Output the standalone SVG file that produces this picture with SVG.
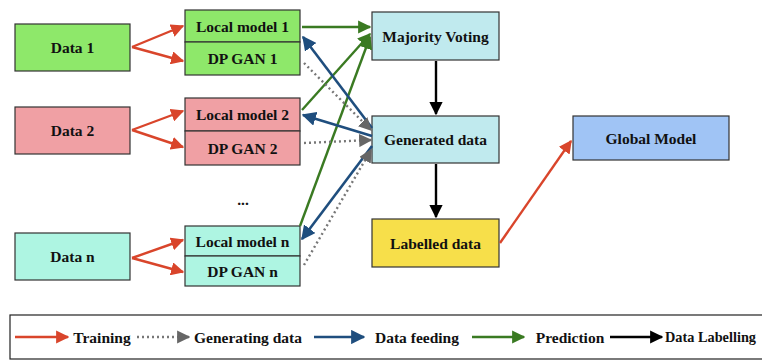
<svg xmlns="http://www.w3.org/2000/svg" width="762" height="360" viewBox="0 0 762 360">
<style>
text{font-family:"Liberation Serif","Times New Roman",serif;font-weight:bold;font-size:15.5px;fill:#111;text-anchor:middle;dominant-baseline:central}
.box{stroke:#333;stroke-width:1.2}
.tr{stroke:#d9452b;stroke-width:2.4;fill:none}
.gen{stroke:#777;stroke-width:2.4;stroke-dasharray:2 3;fill:none}
.feed{stroke:#1f4e7e;stroke-width:2.6;fill:none}
.pred{stroke:#3a7a22;stroke-width:2.4;fill:none}
.lab{stroke:#000;stroke-width:2.4;fill:none}
</style>
<defs>
<marker id="mr" viewBox="0 0 10 10" refX="9" refY="5" markerWidth="5.5" markerHeight="5.5" orient="auto" markerUnits="strokeWidth"><path d="M0,0 L10,5 L0,10 Z" fill="#d9452b"/></marker>
<marker id="mg" viewBox="0 0 10 10" refX="9" refY="5" markerWidth="5.5" markerHeight="5.5" orient="auto" markerUnits="strokeWidth"><path d="M0,0 L10,5 L0,10 Z" fill="#666"/></marker>
<marker id="mb" viewBox="0 0 10 10" refX="9" refY="5" markerWidth="5.5" markerHeight="5.5" orient="auto" markerUnits="strokeWidth"><path d="M0,0 L10,5 L0,10 Z" fill="#1f4e7e"/></marker>
<marker id="mp" viewBox="0 0 10 10" refX="9" refY="5" markerWidth="5.5" markerHeight="5.5" orient="auto" markerUnits="strokeWidth"><path d="M0,0 L10,5 L0,10 Z" fill="#3a7a22"/></marker>
<marker id="mk" viewBox="0 0 10 10" refX="9" refY="5" markerWidth="5.5" markerHeight="5.5" orient="auto" markerUnits="strokeWidth"><path d="M0,0 L10,5 L0,10 Z" fill="#000"/></marker>
</defs>
<rect width="762" height="360" fill="#fff"/>

<g id="data1"><rect class="box" x="15" y="24" width="115" height="47" fill="#8ee86a"/><text x="72.5" y="47.5">Data 1</text></g>
<g id="local1"><rect class="box" x="185" y="10" width="115" height="32" fill="#8ee86a"/><text x="242.5" y="26">Local model 1</text></g>
<g id="gan1"><rect class="box" x="185" y="42" width="115" height="33" fill="#8ee86a"/><text x="242.5" y="58.5">DP GAN 1</text></g>

<g id="data2"><rect class="box" x="15" y="107" width="115" height="47" fill="#f0a0a4"/><text x="72.5" y="130.5">Data 2</text></g>
<g id="local2"><rect class="box" x="185" y="98" width="115" height="33" fill="#f0a0a4"/><text x="242.5" y="114.5">Local model 2</text></g>
<g id="gan2"><rect class="box" x="185" y="131" width="115" height="34" fill="#f0a0a4"/><text x="242.5" y="148">DP GAN 2</text></g>

<g id="dots"><text x="243" y="199">...</text></g>

<g id="datan"><rect class="box" x="15" y="233" width="115" height="47" fill="#aef5e2"/><text x="72.5" y="256.5">Data n</text></g>
<g id="localn"><rect class="box" x="185" y="226" width="115" height="30" fill="#aef5e2"/><text x="242.5" y="241">Local model n</text></g>
<g id="gann"><rect class="box" x="185" y="256" width="115" height="30" fill="#aef5e2"/><text x="242.5" y="271">DP GAN n</text></g>

<g id="majority"><rect class="box" x="372" y="12" width="127" height="48" fill="#c0eaee"/><text x="435.5" y="36">Majority Voting</text></g>
<g id="generated"><rect class="box" x="372" y="116" width="127" height="47" fill="#c0eaee"/><text x="435.5" y="139.5">Generated data</text></g>
<g id="labelled"><rect class="box" x="372" y="219" width="127" height="48" fill="#f7df4a"/><text x="435.5" y="243">Labelled data</text></g>
<g id="global"><rect class="box" x="573" y="116" width="156" height="44" fill="#a0c4f5"/><text x="651" y="138">Global Model</text></g>

<g id="connectors">
<path class="tr" d="M132,47 L183,26" marker-end="url(#mr)"/>
<path class="tr" d="M132,47 L183,61" marker-end="url(#mr)"/>
<path class="tr" d="M132,130 L183,111" marker-end="url(#mr)"/>
<path class="tr" d="M132,130 L183,147" marker-end="url(#mr)"/>
<path class="tr" d="M132,258 L183,240" marker-end="url(#mr)"/>
<path class="tr" d="M132,258 L183,272" marker-end="url(#mr)"/>

<path class="pred" d="M302,27 L370,27" marker-end="url(#mp)"/>
<path class="pred" d="M302,110 L370,34" marker-end="url(#mp)"/>
<path class="pred" d="M300,226 L370,37" marker-end="url(#mp)"/>

<path class="feed" d="M372,128 L303,37" marker-end="url(#mb)"/>
<path class="feed" d="M372,136 L303,115" marker-end="url(#mb)"/>
<path class="feed" d="M372,146 L302,239" marker-end="url(#mb)"/>

<path class="gen" d="M304,63 L371,130" marker-end="url(#mg)"/>
<path class="gen" d="M304,143 L371,140" marker-end="url(#mg)"/>
<path class="gen" d="M304,265 L371,150" marker-end="url(#mg)"/>

<path class="lab" d="M436,61 L436,114" marker-end="url(#mk)"/>
<path class="lab" d="M436,164 L436,217" marker-end="url(#mk)"/>

<path class="tr" d="M500,243 L571,141" marker-end="url(#mr)"/>
</g>

<g id="legend">
<rect x="10" y="315" width="760" height="44" fill="none" stroke="#222" stroke-width="1.2"/>
<path class="tr" d="M15,337 L68,337" marker-end="url(#mr)"/>
<text x="102" y="337">Training</text>
<path class="gen" d="M137,337 L189,337" marker-end="url(#mg)"/>
<text x="248" y="337">Generating data</text>
<path class="feed" d="M314,337 L364,337" marker-end="url(#mb)"/>
<text x="417" y="337">Data feeding</text>
<path class="pred" d="M472,337 L524,337" marker-end="url(#mp)"/>
<text x="570" y="337">Prediction</text>
<path class="lab" d="M610,337 L662,337" marker-end="url(#mk)"/>
<text x="665" y="337" style="text-anchor:start;font-size:15px" textLength="91" lengthAdjust="spacingAndGlyphs">Data Labelling</text>
</g>
</svg>
